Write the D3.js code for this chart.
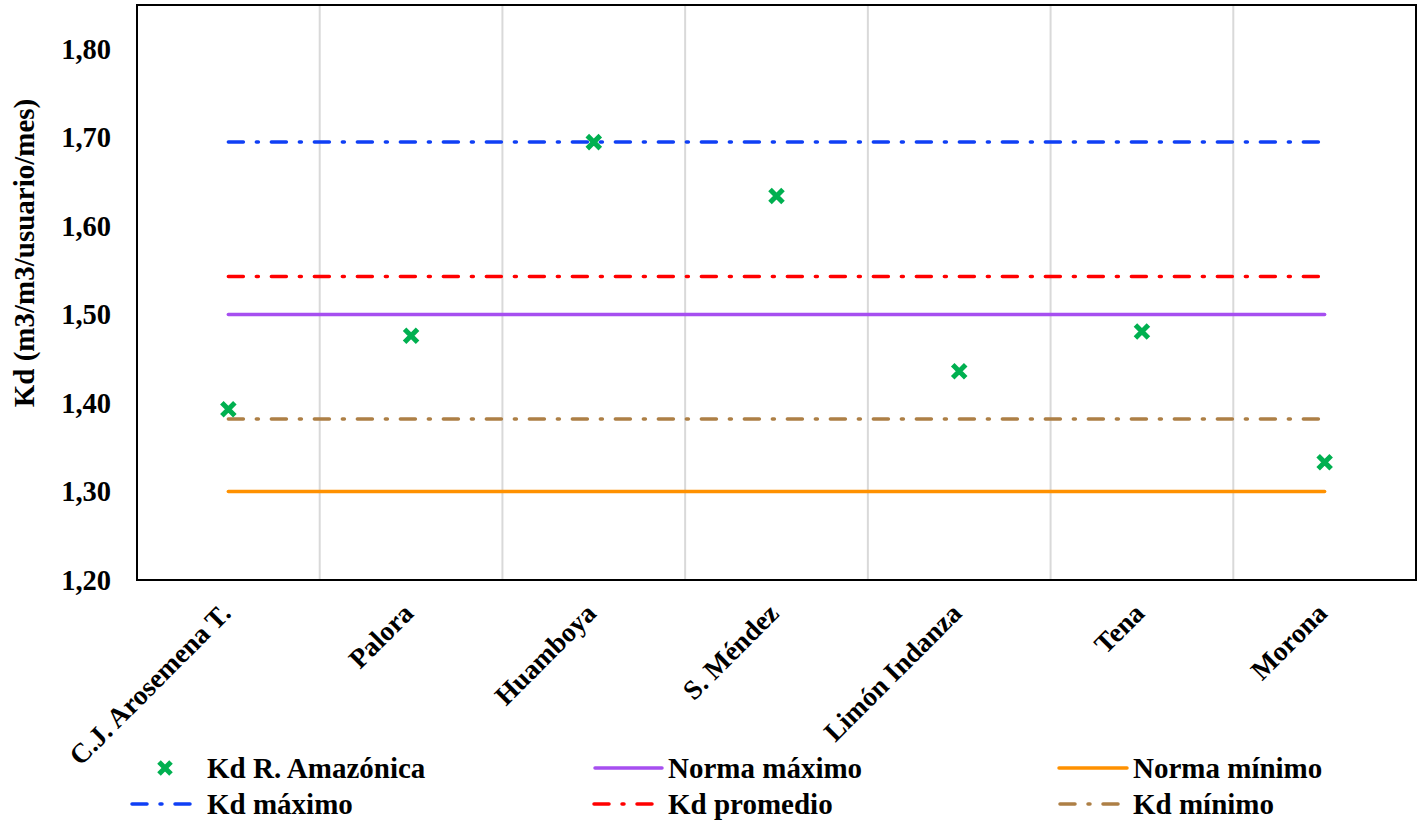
<!DOCTYPE html>
<html>
<head>
<meta charset="utf-8">
<script src="https://cdn.jsdelivr.net/npm/d3@7"></script>
</head>
<body style="margin:0;background:#fff">
<div id="chart"></div>
<script>
var categories = ['C.J. Arosemena T.', 'Palora', 'Huamboya', 'S. Méndez', 'Limón Indanza', 'Tena', 'Morona'];
var kdAmazonica = [1.393, 1.476, 1.695, 1.634, 1.436, 1.481, 1.333];
var normaMaximo = 1.50;
var normaMinimo = 1.30;
var kdMaximo = 1.695;
var kdPromedio = 1.543;
var kdMinimo = 1.382;
var yTicks = [1.20, 1.30, 1.40, 1.50, 1.60, 1.70, 1.80];

var width = 1423, height = 820;
var margin = { top: 5, right: 7, bottom: 240, left: 137 };
var w = width - margin.left - margin.right;
var h = height - margin.top - margin.bottom;
var serif = '"Liberation Serif"';

function txt(sel, size) {
  return sel.style('font-family', serif).style('font-weight', 'bold')
    .style('font-size', size + 'px').style('fill', '#000');
}

var svg = d3.select('#chart').append('svg').attr('width', width).attr('height', height);
var g = svg.append('g').attr('transform', 'translate(' + margin.left + ',' + margin.top + ')');

var x = d3.scaleBand().domain(categories).range([0, w]);
var y = d3.scaleLinear().domain([1.20, 1.85]).range([h, 0]);
var fmt = function(d) { return d3.format('.2f')(d).replace('.', ','); };

// vertical gridlines between categories
g.selectAll('.grid').data(categories.slice(1)).enter().append('line')
  .attr('x1', function(d) { return x(d); }).attr('x2', function(d) { return x(d); })
  .attr('y1', 0).attr('y2', h)
  .style('stroke', '#d9d9d9').style('stroke-width', 2);

// frame
g.append('rect').attr('width', w).attr('height', h)
  .style('fill', 'none').style('stroke', '#000').style('stroke-width', 2);

// y axis labels
var yAxis = d3.axisLeft(y).tickValues(yTicks).tickFormat(fmt).tickSize(0).tickPadding(26);
var ya = g.append('g').call(yAxis);
ya.select('.domain').remove();
txt(ya.selectAll('text'), 28.5);

txt(svg.append('text')
  .attr('transform', 'translate(34,253) rotate(-90)')
  .attr('text-anchor', 'middle')
  .text('Kd (m3/m3/usuario/mes)'), 29);

// x axis labels
var xAxis = d3.axisBottom(x).tickSize(0).tickPadding(0);
var xa = g.append('g').attr('transform', 'translate(0,' + h + ')').call(xAxis);
xa.select('.domain').remove();
txt(xa.selectAll('text')
  .attr('text-anchor', 'end')
  .attr('y', 0).attr('dy', 0)
  .attr('transform', 'translate(4,35) rotate(-45)'), 27.5);

var cx = function(d) { return x(d) + x.bandwidth() / 2; };
var x0 = cx(categories[0]), x1 = cx(categories[categories.length - 1]);

var dashDot = '15,13,2,13';
var refLines = [
  { v: kdMaximo, color: '#0f3ff5', dash: dashDot },
  { v: kdPromedio, color: '#ff0000', dash: dashDot },
  { v: normaMaximo, color: '#a64ff0', dash: null },
  { v: kdMinimo, color: '#ad7f45', dash: dashDot },
  { v: normaMinimo, color: '#ff9100', dash: null }
];

g.selectAll('.ref').data(refLines).enter().append('line')
  .attr('x1', x0).attr('x2', x1)
  .attr('y1', function(d) { return y(d.v); }).attr('y2', function(d) { return y(d.v); })
  .style('stroke', function(d) { return d.color; })
  .style('stroke-width', 3.5)
  .style('stroke-linecap', 'round')
  .style('stroke-dasharray', function(d) { return d.dash; });

function cross(sel, s) {
  sel.append('path')
    .attr('d', 'M' + (-s) + ',' + (-s) + 'L' + s + ',' + s + 'M' + (-s) + ',' + s + 'L' + s + ',' + (-s))
    .style('stroke', '#00b050').style('stroke-width', 5).style('fill', 'none');
}

var pts = g.selectAll('.pt').data(kdAmazonica).enter().append('g')
  .attr('transform', function(d, i) { return 'translate(' + cx(categories[i]) + ',' + y(d) + ')'; });
cross(pts, 6.5);

// legend
var legend = svg.append('g');
var items = [
  { label: 'Kd R. Amazónica', type: 'marker', lx: 165, tx: 207, ly: 768 },
  { label: 'Norma máximo', type: 'line', color: '#a64ff0', dash: null, l0: 595, l1: 662, tx: 668, ly: 768 },
  { label: 'Norma mínimo', type: 'line', color: '#ff9100', dash: null, l0: 1059, l1: 1127, tx: 1133, ly: 768 },
  { label: 'Kd máximo', type: 'line', color: '#0f3ff5', dash: dashDot, l0: 132, l1: 190, tx: 207, ly: 804 },
  { label: 'Kd promedio', type: 'line', color: '#ff0000', dash: dashDot, l0: 594, l1: 652, tx: 668, ly: 804 },
  { label: 'Kd mínimo', type: 'line', color: '#ad7f45', dash: dashDot, l0: 1060, l1: 1118, tx: 1133, ly: 804 }
];
items.forEach(function(it) {
  if (it.type === 'marker') {
    cross(legend.append('g').attr('transform', 'translate(' + it.lx + ',' + it.ly + ')'), 6);
  } else {
    legend.append('line')
      .attr('x1', it.l0).attr('x2', it.l1).attr('y1', it.ly).attr('y2', it.ly)
      .style('stroke', it.color).style('stroke-width', 3.5).style('stroke-linecap', 'round')
      .style('stroke-dasharray', it.dash);
  }
  txt(legend.append('text').attr('x', it.tx).attr('y', it.ly).attr('dy', '0.35em').text(it.label), 29);
});
</script>
</body>
</html>
